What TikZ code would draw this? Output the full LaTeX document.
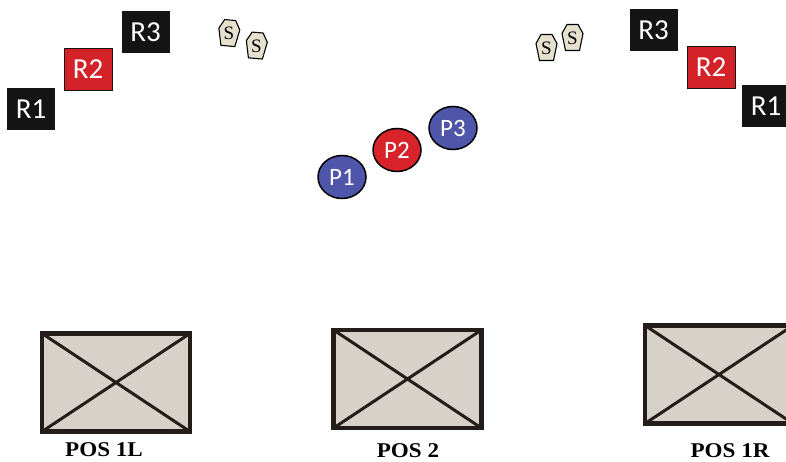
\documentclass[tikz,border=0pt]{standalone}
\usepackage{fontspec}
\setmainfont{Liberation Serif}
\newfontfamily\calib{Carlito}
\definecolor{rblack}{HTML}{141414}
\definecolor{rred}{HTML}{D42229}
\definecolor{pblue}{HTML}{4F55A9}
\definecolor{pred}{HTML}{D8232B}
\definecolor{sfill}{HTML}{E6E0CE}
\definecolor{boxfill}{HTML}{D6D2CA}
\definecolor{edge}{HTML}{231C18}
\tikzset{
  rbox/.style={rectangle, minimum width=48pt, minimum height=42pt, inner sep=0pt,
    text=white, font=\calib\fontsize{29}{29}\selectfont},
  rblk/.style={rbox, fill=rblack},
  rrd/.style={rbox, fill=rred, draw=rblack, line width=0.8pt},
  pcirc/.style={ellipse, minimum width=48pt, minimum height=43pt, inner sep=0pt,
    draw=black, line width=1.5pt, text=white, font=\calib\fontsize{25}{25}\selectfont},
  pb/.style={pcirc, fill=pblue},
  pr/.style={pcirc, fill=pred},
  stage/.style={rectangle, fill=boxfill, inner sep=0pt,
    minimum width=148pt, minimum height=98pt},
  cross/.style={draw=edge, line width=3pt},
  frame/.style={draw=edge, line width=4.5pt, line join=miter},
  poslabel/.style={font=\bfseries\fontsize{21}{21}\selectfont, text=black, inner sep=0pt},
  coffin/.pic={
    \draw[fill=sfill, draw=black, line width=1.1pt, line join=round]
      (-5.5,-13) -- (5.5,-13) -- (10.5,-4) -- (7,13) -- (-7,13) -- (-10.5,-4) -- cycle;
    \node[font=\fontsize{19}{19}\selectfont, inner sep=0pt] (-n) at (0,0.5) {S};
  }
}
\usetikzlibrary{shapes.geometric}
\begin{document}
\begin{tikzpicture}[x=1pt,y=-1pt]
\useasboundingbox (0,0) rectangle (786,462);
\clip (0,0) rectangle (786,462);
\fill[white] (0,0) rectangle (786,462);

% left R boxes
\node[rblk] (lr1) at (31,109) {R1};
\node[rrd]  (lr2) at (88,69) {R2};
\node[rblk] (lr3) at (145.5,32.5) {R3};
% right R boxes
\node[rblk] (rr3) at (653.5,30) {R3};
\node[rrd]  (rr2) at (711,67) {R2};
\node[rblk] (rr1) at (766,106) {R1};

% S markers
\pic[rotate=-5] (sl1) at (229,33) {coffin};
\pic[rotate=-5] (sl2) at (256.5,45.5) {coffin};
\pic (sr1) at (546.5,47.5) {coffin};
\pic (sr2) at (572.5,37.5) {coffin};

% P circles
\node[pb] (p1) at (342,177) {P1};
\node[pr] (p2) at (397,150) {P2};
\node[pb] (p3) at (453,128) {P3};

% stage boxes
\node[stage] (b1) at (116,382.5) {};
\draw[cross] (b1.north west) -- (b1.south east) (b1.north east) -- (b1.south west);
\draw[frame] (b1.north west) rectangle (b1.south east);
\node[stage] (b2) at (407.5,379) {};
\draw[cross] (b2.north west) -- (b2.south east) (b2.north east) -- (b2.south west);
\draw[frame] (b2.north west) rectangle (b2.south east);
\node[stage] (b3) at (719,374.5) {};
\draw[cross] (b3.north west) -- (b3.south east) (b3.north east) -- (b3.south west);
\draw[frame] (b3.north west) rectangle (b3.south east);

\node[poslabel] (l1) at (104,450) {\scalebox{1.1}[1]{POS 1L}};
\node[poslabel] (l2) at (408,451) {\scalebox{1.1}[1]{POS 2}};
\node[poslabel] (l3) at (730,451) {\scalebox{1.1}[1]{POS 1R}};
\end{tikzpicture}
\end{document}
